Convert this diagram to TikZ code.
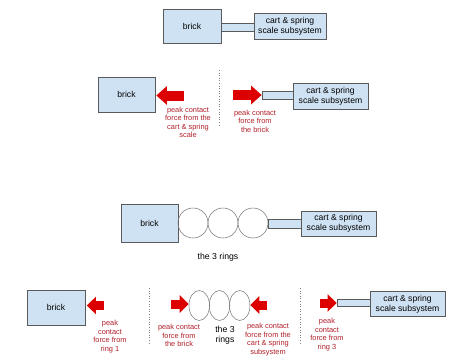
\documentclass[tikz,border=0pt]{standalone}
\usepackage{fontspec}
\setmainfont{Liberation Sans}
\usetikzlibrary{arrows.meta,shapes.geometric}

\definecolor{boxblue}{HTML}{CFE2F3}
\definecolor{boxline}{HTML}{5A5A5A}
\definecolor{forcered}{HTML}{DD0000}
\definecolor{labelred}{HTML}{B01E28}

\tikzset{
	body/.style={draw=boxline, fill=boxblue, line width=0.7pt, inner sep=0pt,
		font=\fontsize{8.6}{9.8}\selectfont, align=center},
	rod/.style={draw=boxline, fill=boxblue, line width=0.7pt, inner sep=0pt},
	ring/.style={draw=boxline!80, circle, line width=0.55pt, minimum size=30pt, inner sep=0pt},
	flatring/.style={draw=boxline!80, ellipse, line width=0.55pt,
		minimum width=20.5pt, minimum height=30pt, inner sep=0pt},
	force/.style={draw=forcered, line width=10pt, -{Triangle[length=10.5pt,width=18pt]}},
	smallforce/.style={draw=forcered, line width=9pt, -{Triangle[length=9pt,width=17pt]}},
	forcelabel/.style={text=labelred, font=\fontsize{7.4}{8.5}\selectfont, align=center, inner sep=0pt},
	ringlabel/.style={font=\fontsize{8.7}{10}\selectfont, align=center, inner sep=0pt},
	divider/.style={draw=gray, dotted, line width=0.6pt}
}

\begin{document}
\begin{tikzpicture}[x=1pt, y=-1pt]

\useasboundingbox (0,0) rectangle (451,357);

% Brick with cart and spring scale
\node[rod, minimum width=33pt, minimum height=8pt] (rod1) at (237.5,27) {};
\node[body,
	minimum width=58pt,
	minimum height=34pt
] (brick1) at (192,26) {brick};
\node[body,
	minimum width=72pt,
	minimum height=26pt
] (cart1) at (290,26) {cart \& spring\\scale subsystem};

% Brick and cart apart
\node[body,
	minimum width=57pt,
	minimum height=35pt
] (brick2) at (126.5,94.5) {brick};
\node[rod, minimum width=31pt, minimum height=8pt] (rod2) at (277.5,95) {};
\node[body,
	minimum width=75pt,
	minimum height=26pt
] (cart2) at (330.5,96) {cart \& spring\\scale subsystem};

\coordinate (push2a) at (184,95.5);
\coordinate (push2b) at (233,95);
\draw[force] (push2a) -- ([xshift=1pt]brick2.east |- push2a);
\draw[force] (push2b) -- (rod2.west);

\node[forcelabel] (label2a) at (188,122.5)
	{peak contact\\force from the\\cart \& spring\\scale};
\node[forcelabel] (label2b) at (255,121)
	{peak contact\\force from\\the brick};

\draw[divider] (219,70) -- (219,127);

% Brick, rings and cart
\node[body,
	minimum width=57pt,
	minimum height=38pt
] (brick3) at (149.5,223) {brick};
\node[ring] (ring3a) at (193,223) {};
\node[ring] (ring3b) at (223,223) {};
\node[ring] (ring3c) at (253,223) {};
\node[rod, minimum width=33pt, minimum height=9pt] (rod3) at (284.5,223.5) {};
\node[body,
	minimum width=75pt,
	minimum height=25pt
] (cart3) at (338.5,223.5) {cart \& spring\\scale subsystem};

\node[ringlabel] (rings3) at (218,257) {the 3 rings};

% All three apart
\node[body,
	minimum width=58pt,
	minimum height=35pt
] (brick4) at (56,307.5) {brick};
\node[flatring] (ring4a) at (199.25,305.5) {};
\node[flatring] (ring4b) at (219.5,305.5) {};
\node[flatring] (ring4c) at (239.75,305.5) {};
\node[rod, minimum width=33pt, minimum height=7pt] (rod4) at (353.5,303) {};
\node[body,
	minimum width=75pt,
	minimum height=25pt
] (cart4) at (407.5,304) {cart \& spring\\scale subsystem};

\coordinate (push4a) at (104,305.5);
\coordinate (push4b) at (171,304);
\coordinate (push4c) at (267,305);
\coordinate (push4d) at (320,303);
\draw[smallforce] (push4a) -- ([xshift=1.5pt]brick4.east |- push4a);
\draw[smallforce] (push4b) -- (ring4a.west |- push4b);
\draw[smallforce] (push4c) -- (ring4c.east |- push4c);
\draw[smallforce] (push4d) -- (rod4.west);

\node[forcelabel] (label4a) at (110,336.5)
	{peak\\contact\\force from\\ring 1};
\node[forcelabel] (label4b) at (179,335.5)
	{peak contact\\force from\\the brick};
\node[ringlabel] (rings4) at (225,335) {the 3\\rings};
\node[forcelabel] (label4c) at (268,339.5)
	{peak contact\\force from the\\cart \& spring\\subsystem};
\node[forcelabel] (label4d) at (327,334.5)
	{peak\\contact\\force from\\ring 3};

\draw[divider] (149,288) -- (149,343);
\draw[divider] (300,288) -- (300,343);

\end{tikzpicture}
\end{document}
